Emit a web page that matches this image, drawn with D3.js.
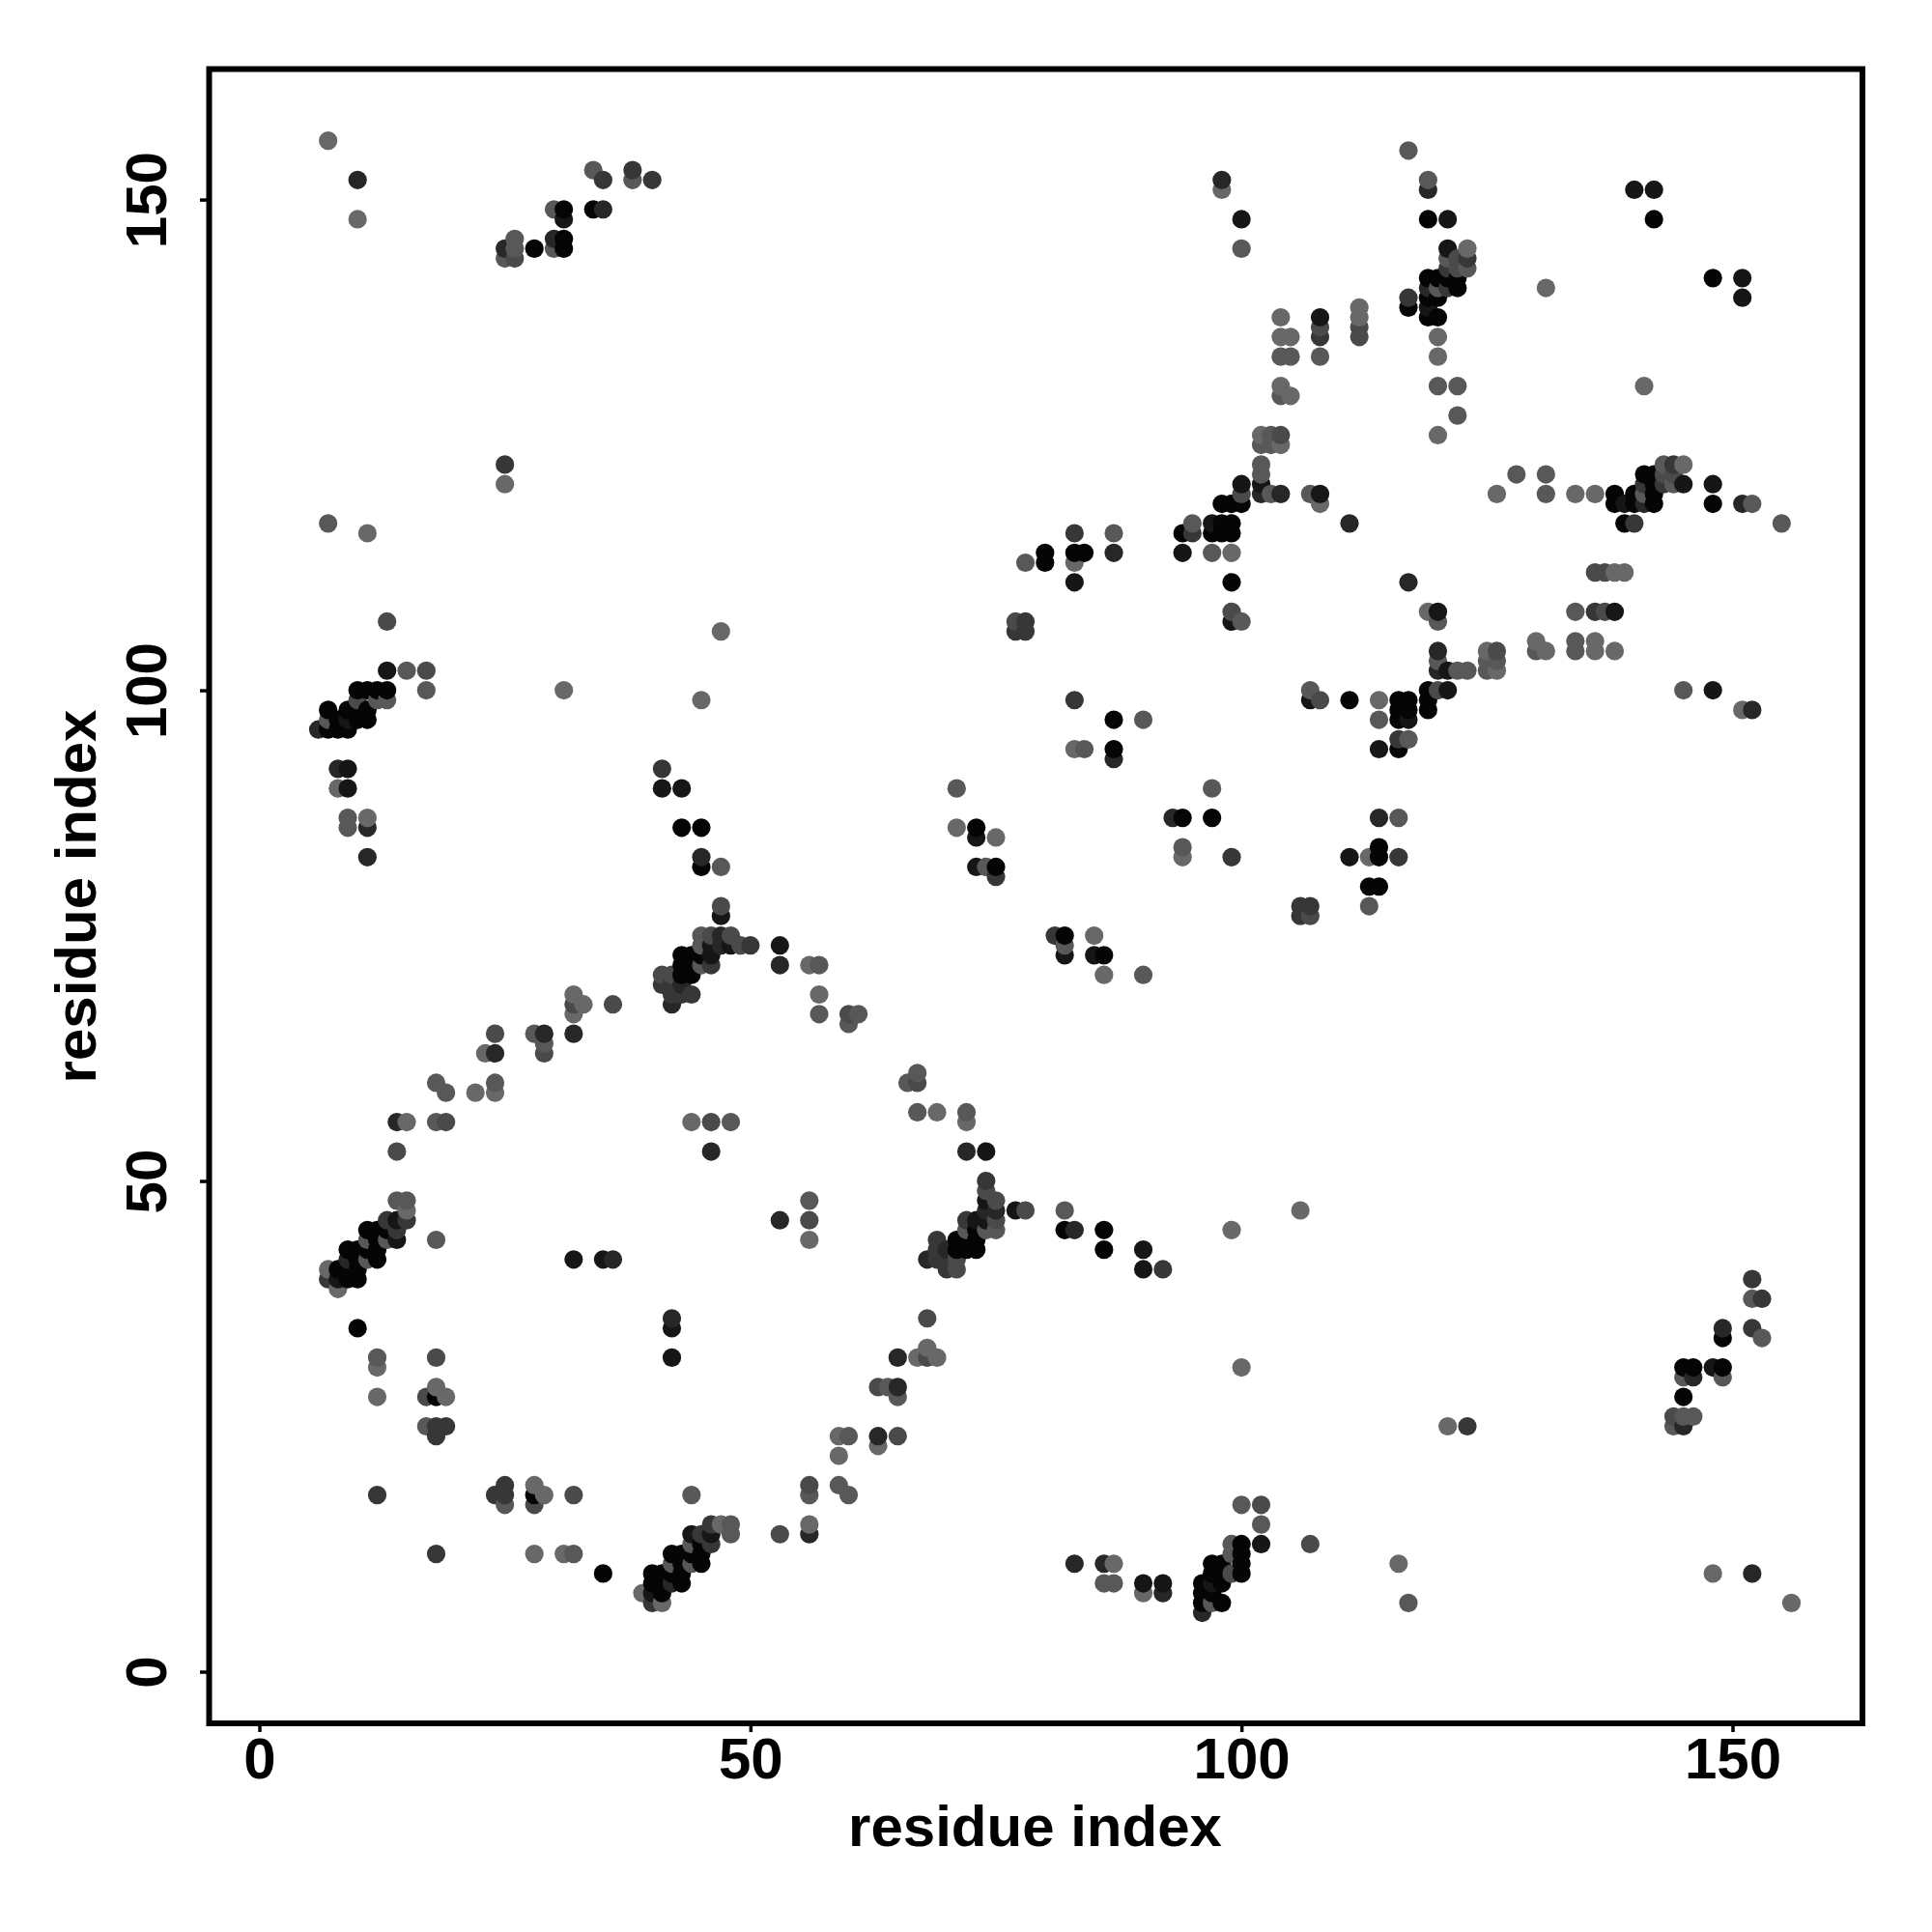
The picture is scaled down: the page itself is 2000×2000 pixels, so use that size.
<!DOCTYPE html>
<html>
<head>
<meta charset="utf-8">
<script src="https://d3js.org/d3.v7.min.js"></script>
<style>html,body{margin:0;padding:0;background:#fff}svg{display:block}text{font-family:"Liberation Sans",Arial,sans-serif;font-weight:700;fill:#000}</style>
</head>
<body>
<svg id="chart" width="2000" height="2000"></svg>
<script>
const tickValues = [0, 50, 100, 150];
const axisTitle = "residue index";

// Residue contacts [i, j] with i < j, one list per grey level. The map is symmetric.
const contactsGrey05 = [[12,42],[12,43],[12,44],[12,45],[11,43],[11,45],[10,40],[10,41],[10,42],[10,43],[9,40],[9,41],[9,43],[8,41],[10,35],[18,28],
[11,97],[11,98],[11,100],[10,97],[10,98],[10,100],[9,96],[9,98],[8,96],[8,97],[7,96],[7,98],[13,45],[13,100],[12,100],
[43,73],[44,73],[45,73],[44,72],[43,72],[44,71],[43,71],
[73,86],[75,82],[94,87],[97,87],[114,84],[114,83],[113,80],[114,80],[43,86],[45,86],[45,82],
[80,114],[80,113],[83,114],[84,114],[87,97],[87,94],[94,116],[97,116],[98,116],[99,116],[98,117],[99,117],[99,111],
[98,119],[99,119],[100,119],[31,145],[31,149],[31,146],[28,145],[34,149],[119,148],[142,148],
[122,141],[122,142],[121,142],[120,138],[120,140],[120,142],[119,138],[119,140],[119,142],[117,139]];
const contactsGrey15 = [[14,46],[14,44],[9,97],[8,40],[32,42],[35,42],[13,102],[9,90],[9,92],[41,90],[43,90],
[46,74],[48,74],[46,73],[47,77],[53,74],[73,85],[73,82],[94,114],[83,111],[108,120],[102,121],[100,121],[97,117],[99,107],
[111,83],[100,148],[121,148],[140,151],[142,151],[108,138],[31,148],[119,139],[121,145]];
const contactsGrey27 = [[9,42],[10,152],[6,96],[25,145],[30,146],[35,149],[11,86],[11,83],[14,56],[24,63],[29,65],[32,65],[46,53],[36,42],[8,92],[53,72],[45,83],
[47,75],[47,74],[43,70],[42,68],[87,114],[87,93],[102,120],[104,120],[111,117],[117,97],[114,87],[98,152],[119,151],[119,141]];
const contactsGrey37 = [[7,40],[15,46],[13,46],[14,45],[18,25],[19,25],[18,24],[12,18],[25,123],[35,152],[38,153],[40,152],
[50,74],[46,72],[42,70],[41,70],[44,69],[43,69],[42,69],[83,116],[95,116],[83,99],[77,106],[78,106],[93,87],[99,83],[106,78],[107,78],[106,77],
[116,83],[117,140],[108,136],[121,141],[121,143],[123,144],[41,92],[75,81]];
const contactsGrey4a = [[18,32],[17,28],[14,53],[46,56],[19,56],[17,102],[13,107],[24,65],[29,63],[32,68],[36,68],
[46,75],[48,75],[49,74],[41,71],[42,71],[47,78],[107,77],[77,107],[78,107],[100,120],[99,108],
[112,136],[112,137],[108,137],[104,126],[122,143],[122,144],[60,67],[10,99],[26,144]];
const contactsGrey58 = [[14,48],[15,48],[13,44],[11,42],[11,44],[12,32],[17,25],[18,44],[19,59],[18,60],[24,60],[18,56],[48,56],[47,82],
[45,75],[45,74],[45,72],[57,72],[57,67],[61,67],[60,66],[29,64],[28,65],[71,90],[74,82],[94,84],[116,87],[95,117],
[97,114],[78,113],[84,94],[90,97],[102,122],[103,125],[103,126],[102,125],[102,123],[103,120],[107,120],[104,134],[105,134],[108,134],[104,130],
[120,131],[122,131],[122,128],[121,144],[120,141],[123,143],[7,97],[9,86],[9,87],[25,144],[26,145],[26,146],[30,145],[30,149],
[38,152],[34,153],[7,117],[15,102],[17,100],[12,99],[13,99],[100,145],[117,155],[119,152],[100,107]];
const contactsGrey6b = [[15,47],[8,39],[7,41],[12,31],[12,28],[18,29],[19,28],[15,56],[22,59],[24,59],[23,63],[32,67],[32,69],[33,68],[44,56],[56,72],
[57,69],[71,86],[75,85],[97,90],[94,83],[113,83],[113,78],[83,113],[87,116],[83,94],[99,114],[108,119],[102,126],[104,125],[104,138],[104,136],[105,136],
[105,130],[104,131],[112,139],[112,138],[120,136],[120,134],[120,126],[123,145],[131,141],[98,151],[7,156],[10,148],[25,121],[11,116],[11,87],[31,100],
[45,99],[47,106],[8,90]];
</script>
<script>
const greyLevels = [
  [contactsGrey05, "#050505"], [contactsGrey15, "#161616"], [contactsGrey27, "#272727"],
  [contactsGrey37, "#373737"], [contactsGrey4a, "#4a4a4a"], [contactsGrey58, "#585858"], [contactsGrey6b, "#686868"]
];
const seen = new Set();
const points = [];
greyLevels.forEach(([list, fill]) => list.forEach(([a, b]) => {
  const key = Math.min(a, b) + "-" + Math.max(a, b);
  if (seen.has(key)) return;
  seen.add(key);
  points.push({x: a, y: b, fill}, {x: b, y: a, fill});
}));
points.sort((p, q) => d3.ascending(p.x, q.x) || d3.ascending(p.y, q.y));

const svg = d3.select("#chart");
const x = d3.scaleLinear().domain([0, 150]).range([268.5, 1793.5]);
const y = d3.scaleLinear().domain([0, 150]).range([1730.5, 206.6]);

svg.append("g").selectAll("circle").data(points).join("circle")
  .attr("cx", d => x(d.x)).attr("cy", d => y(d.y)).attr("r", 9.6).attr("fill", d => d.fill);

svg.append("rect").attr("x", 216.5).attr("y", 71.5).attr("width", 1711.5).attr("height", 1712.5)
  .attr("fill", "none").attr("stroke", "#000").attr("stroke-width", 6);

const xAxis = svg.append("g").attr("transform", "translate(0,1784)")
  .call(d3.axisBottom(x).tickValues(tickValues).tickSize(9).tickPadding(5).tickFormat(d3.format("d")));
const yAxis = svg.append("g").attr("transform", "translate(216,0)")
  .call(d3.axisLeft(y).tickValues(tickValues).tickSize(9).tickFormat(d3.format("d")));
[xAxis, yAxis].forEach(g => {
  g.select(".domain").remove();
  g.selectAll("line").attr("stroke", "#000").attr("stroke-width", 3.5);
  g.selectAll("text").style("font-size", "60px").style("font-family", '"Liberation Sans",Arial,sans-serif').style("font-weight", 700);
});
xAxis.selectAll("text").attr("dy", null).attr("y", 0).attr("transform", "translate(0,57)").attr("text-anchor", "middle");
yAxis.selectAll("text").attr("dy", null).attr("x", 0).attr("y", 0)
  .attr("text-anchor", "middle")
  .attr("transform", "translate(-44,0) rotate(-90)");

svg.append("text").attr("x", 1071.5).attr("y", 1911).attr("text-anchor", "middle").style("font-size", "60px").text(axisTitle);
svg.append("text").attr("transform", "translate(99,928) rotate(-90)").attr("text-anchor", "middle").style("font-size", "60px").text(axisTitle);
</script>
</body>
</html>
